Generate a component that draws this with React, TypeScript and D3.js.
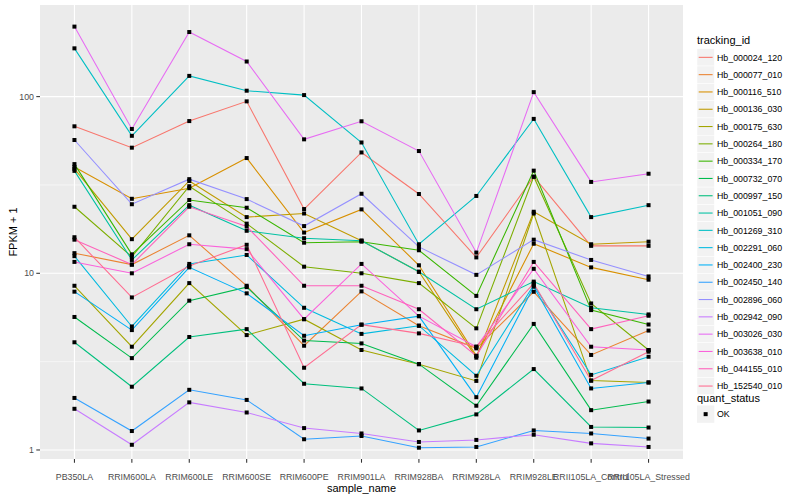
import React from "react";
import * as d3 from "d3";

// --- Data (FPKM + 1) ---
const samples = [
  "PB350LA",
  "RRIM600LA",
  "RRIM600LE",
  "RRIM600SE",
  "RRIM600PE",
  "RRIM901LA",
  "RRIM928BA",
  "RRIM928LA",
  "RRIM928LE",
  "RRII105LA_Control",
  "RRII105LA_Stressed",
];

const trackingIds = [
  "Hb_000024_120",
  "Hb_000077_010",
  "Hb_000116_510",
  "Hb_000136_030",
  "Hb_000175_630",
  "Hb_000264_180",
  "Hb_000334_170",
  "Hb_000732_070",
  "Hb_000997_150",
  "Hb_001051_090",
  "Hb_001269_310",
  "Hb_002291_060",
  "Hb_002400_230",
  "Hb_002450_140",
  "Hb_002896_060",
  "Hb_002942_090",
  "Hb_003026_030",
  "Hb_003638_010",
  "Hb_044155_010",
  "Hb_152540_010",
];

const fpkm: number[][] = [
  [67.9, 51.4, 72.7, 94, 23.1, 48.3, 28.1, 12.3, 35.2, 14.3, 14.3],
  [13.0, 11.2, 16.4, 8.5, 3.89, 7.9, 5.05, 3.76, 7.86, 3.45, 4.74],
  [40, 26.4, 30.3, 44.9, 17.0, 23.0, 11.1, 3.41, 14.7, 10.8, 9.2],
  [39, 15.6, 33.3, 20.8, 21.8, 15.3, 10.2, 3.33, 22.3, 14.6, 15.1],
  [8.5, 3.84, 8.8, 4.47, 5.5, 3.68, 3.06, 2.46, 21.8, 2.47, 2.41],
  [23.8, 12.4, 31.1, 19.1, 10.9, 10.0, 8.8, 4.88, 35.2, 6.75, 3.68],
  [41.5, 12.8, 26.0, 23.5, 14.9, 15.1, 13.5, 7.45, 38.1, 6.19, 5.13],
  [5.66, 3.31, 7.0, 8.35, 4.16, 4.01, 3.06, 1.78, 5.17, 1.68, 1.88],
  [4.07, 2.28, 4.36, 4.83, 2.37, 2.23, 1.29, 1.59, 2.87, 1.35, 1.34],
  [38, 11.9, 24.3, 17.4, 15.8, 15.3, 10.2, 6.26, 8.97, 6.38, 5.85],
  [187.6, 60, 131, 108, 102, 55, 14.6, 27.4, 74.8, 20.8, 24.3],
  [12.5, 5.0, 11.3, 12.7, 6.38, 4.54, 5.05, 2.63, 8.58, 2.66, 3.37],
  [7.87, 4.77, 10.8, 7.7, 4.43, 5.12, 5.72, 1.99, 8.4, 2.23, 2.41],
  [1.97, 1.28, 2.19, 1.92, 1.15, 1.2, 1.03, 1.04, 1.29, 1.24, 1.16],
  [56.8, 24.6, 34.1, 26.3, 18.5, 28.2, 14.1, 9.8, 15.5, 11.9, 9.6],
  [1.71, 1.07, 1.86, 1.63, 1.33, 1.24, 1.11, 1.14, 1.22, 1.09, 1.04],
  [249, 65.6, 232, 158, 57.3, 72.5, 49.2, 13.1, 106, 32.9, 36.6],
  [11.6, 10.0, 14.6, 13.7, 5.5, 11.3, 5.72, 3.84, 10.6, 3.84, 3.68],
  [15.5, 11.2, 23.8, 18.4, 8.5, 8.5, 6.26, 3.41, 11.6, 4.83, 5.75],
  [16.0, 7.3, 11.0, 14.5, 2.92, 5.12, 4.57, 3.84, 8.78, 2.47, 3.6],
];

const yTicks = [1, 10, 100];
const yMinor = [Math.sqrt(10), Math.sqrt(1000)];
const yLimits = [0.889, 330];

// ggplot2 hue palette for 20 groups
const palette = [
  "#F8766D", "#EA8331", "#D89000", "#C09B00", "#A3A500",
  "#7CAE00", "#39B600", "#00BB4E", "#00BF7D", "#00C1A3",
  "#00BFC4", "#00BAE0", "#00B0F6", "#35A2FF", "#9590FF",
  "#C77CFF", "#E76BF3", "#FA62DB", "#FF62BC", "#FF6C91",
];

const W = 800;
const H = 500;
const panel = { left: 40, right: 683, top: 5, bottom: 459 };
const font = "'Liberation Sans', Arial, Helvetica, sans-serif";

export default function App() {
  const x = d3
    .scalePoint<string>()
    .domain(samples)
    .range([panel.left, panel.right])
    .padding(0.6);
  const y = d3.scaleLog().domain(yLimits).range([panel.bottom, panel.top]);

  const line = d3
    .line<number>()
    .x((_, i) => x(samples[i])!)
    .y((d) => y(d));

  const legendX = 697;
  const keyH = 17.3;
  const keyTop = 48.7;

  return (
    <div style={{ position: "fixed", left: 0, top: 0 }}>
      <svg width={W} height={H} style={{ display: "block", background: "#fff" }}>
        {/* panel */}
        <rect
          x={panel.left}
          y={panel.top}
          width={panel.right - panel.left}
          height={panel.bottom - panel.top}
          fill="#EBEBEB"
        />
        {yMinor.map((t) => (
          <line
            key={"mn" + t}
            x1={panel.left}
            x2={panel.right}
            y1={y(t)}
            y2={y(t)}
            stroke="#fff"
            strokeWidth={0.55}
          />
        ))}
        {yTicks.map((t) => (
          <line
            key={"mj" + t}
            x1={panel.left}
            x2={panel.right}
            y1={y(t)}
            y2={y(t)}
            stroke="#fff"
            strokeWidth={1.1}
          />
        ))}
        {samples.map((s) => (
          <line
            key={"vx" + s}
            x1={x(s)}
            x2={x(s)}
            y1={panel.top}
            y2={panel.bottom}
            stroke="#fff"
            strokeWidth={1.1}
          />
        ))}

        {/* lines */}
        {fpkm.map((vals, i) => (
          <path
            key={trackingIds[i]}
            d={line(vals) || ""}
            fill="none"
            stroke={palette[i]}
            strokeWidth={1.07}
          />
        ))}

        {/* points */}
        {fpkm.map((vals, i) =>
          vals.map((v, j) => (
            <rect
              key={trackingIds[i] + j}
              x={x(samples[j])! - 2}
              y={y(v) - 2}
              width={4}
              height={4}
              fill="#000"
            />
          ))
        )}

        {/* y axis */}
        {yTicks.map((t) => (
          <g key={"yt" + t}>
            <line
              x1={panel.left - 3.7}
              x2={panel.left}
              y1={y(t)}
              y2={y(t)}
              stroke="#333"
              strokeWidth={1.07}
            />
            <text
              x={panel.left - 6}
              y={y(t) + 3.2}
              textAnchor="end"
              fontFamily={font}
              fontSize={8.8}
              fill="#4D4D4D"
            >
              {t}
            </text>
          </g>
        ))}
        <text
          transform={`translate(17,${(panel.top + panel.bottom) / 2}) rotate(-90)`}
          textAnchor="middle"
          fontFamily={font}
          fontSize={11}
          fill="#000"
        >
          FPKM + 1
        </text>

        {/* x axis */}
        {samples.map((s) => (
          <g key={"xt" + s}>
            <line
              x1={x(s)}
              x2={x(s)}
              y1={panel.bottom}
              y2={panel.bottom + 3.7}
              stroke="#333"
              strokeWidth={1.07}
            />
            <text
              x={x(s)}
              y={panel.bottom + 20.5}
              textAnchor="middle"
              fontFamily={font}
              fontSize={8.8}
              fill="#4D4D4D"
            >
              {s}
            </text>
          </g>
        ))}
        <text
          x={(panel.left + panel.right) / 2}
          y={492}
          textAnchor="middle"
          fontFamily={font}
          fontSize={11}
          fill="#000"
        >
          sample_name
        </text>

        {/* legend: tracking_id */}
        <text x={legendX} y={44} fontFamily={font} fontSize={11} fill="#000">
          tracking_id
        </text>
        {trackingIds.map((id, i) => {
          const top = keyTop + i * keyH;
          return (
            <g key={"lg" + id}>
              <rect x={legendX} y={top} width={17.3} height={17.3} fill="#F2F2F2" stroke="#fff" strokeWidth={0.5} />
              <line
                x1={legendX + 1.7}
                x2={legendX + 15.6}
                y1={top + keyH / 2}
                y2={top + keyH / 2}
                stroke={palette[i]}
                strokeWidth={1.07}
              />
              <text
                x={legendX + 20}
                y={top + keyH / 2 + 3.2}
                fontFamily={font}
                fontSize={8.8}
                fill="#000"
              >
                {id}
              </text>
            </g>
          );
        })}

        {/* legend: quant_status */}
        <text x={legendX} y={402} fontFamily={font} fontSize={11} fill="#000">
          quant_status
        </text>
        <rect x={legendX} y={405.5} width={17.3} height={17.3} fill="#F2F2F2" />
        <rect x={legendX + 8.65 - 2} y={414.15 - 2} width={4} height={4} fill="#000" />
        <text x={legendX + 20} y={417.4} fontFamily={font} fontSize={8.8} fill="#000">
          OK
        </text>
      </svg>
    </div>
  );
}
